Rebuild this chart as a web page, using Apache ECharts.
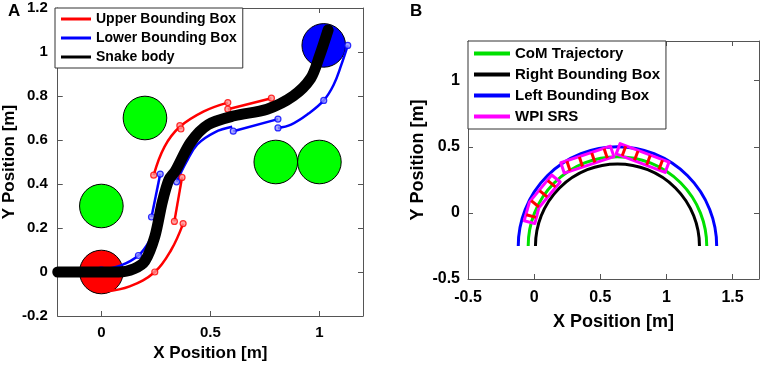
<!DOCTYPE html>
<html>
<head>
<meta charset="utf-8">
<script src="https://cdn.jsdelivr.net/npm/echarts@6/dist/echarts.min.js"></script>
<style>
  html, body { margin: 0; padding: 0; background: #fff; }
  #main { width: 765px; height: 367px; }
</style>
</head>
<body>
<div id="main"></div>
<script>
var FONT = '"Liberation Sans", Arial, sans-serif';

// ---- panel A data (x, y in metres) ----
var greenObstacles = [[0.2, 0.7, 0.1], [0, 0.3, 0.1], [0.8, 0.5, 0.1], [1.0, 0.5, 0.1]];
var startObstacle = [[0, 0, 0.1]];
var goalObstacle = [[1.02, 1.03, 0.1]];

var upperSegs = [
  [[0.02, -0.088], [0.13, -0.065], [0.245, 0.0], [0.32, 0.1], [0.375, 0.22]],
  [[0.335, 0.23], [0.37, 0.43]],
  [[0.24, 0.44], [0.29, 0.57], [0.36, 0.66], [0.47, 0.73], [0.58, 0.77]],
  [[0.58, 0.74], [0.78, 0.79]],
  [[0.785, 0.76], [0.87, 0.8], [0.945, 0.86], [0.99, 0.95]]
];
var upperMarks = [[0.245, 0.0], [0.375, 0.22], [0.335, 0.23], [0.37, 0.43], [0.24, 0.44], [0.36, 0.665],
  [0.365, 0.65], [0.58, 0.77], [0.58, 0.74], [0.78, 0.79], [0.785, 0.76], [0.945, 0.86]];

var lowerSegs = [
  [[0.0, 0.01], [0.09, 0.03], [0.17, 0.075], [0.22, 0.14]],
  [[0.23, 0.25], [0.27, 0.445]],
  [[0.345, 0.41], [0.39, 0.5], [0.44, 0.58], [0.52, 0.635], [0.6, 0.66]],
  [[0.605, 0.64], [0.81, 0.695]],
  [[0.81, 0.655], [0.87, 0.67], [0.95, 0.72], [1.02, 0.78], [1.065, 0.85], [1.1, 0.94], [1.13, 1.03]]
];
var lowerMarks = [[0.0, 0.01], [0.17, 0.075], [0.23, 0.25], [0.27, 0.445], [0.345, 0.41], [0.605, 0.64],
  [0.81, 0.695], [0.81, 0.655], [1.02, 0.78], [1.13, 1.03]];

var snakeBody = [[-0.2, 0], [-0.1, 0], [0, 0], [0.08, 0.0], [0.15, 0.015], [0.2, 0.05], [0.245, 0.16],
  [0.28, 0.32], [0.31, 0.42], [0.34, 0.46], [0.41, 0.59], [0.49, 0.67], [0.61, 0.71], [0.76, 0.74],
  [0.88, 0.8], [0.96, 0.88], [1.0, 0.98], [1.04, 1.1]];

// ---- panel B data ----
var comArc = [[0.63, -0.25, 0.675]];
var rightArc = [[0.63, -0.25, 0.62]];
var leftArc = [[0.63, -0.25, 0.75]];
var moduleSpines = [
  [[-0.035, -0.07], [0.0, 0.06], [0.165, 0.26]],
  [[0.215, 0.34], [0.59, 0.465]],
  [[0.635, 0.485], [1.005, 0.345]]
];
var tickFractions = [0.12, 0.37, 0.62, 0.87];

var axisA_x = [0, 0.5, 1];
var axisA_y = [-0.2, 0, 0.2, 0.4, 0.6, 0.8, 1, 1.2];
var axisB_x = [-0.5, 0, 0.5, 1, 1.5];
var axisB_y = [-0.5, 0, 0.5, 1];

function circleItem(params, api) {
  var c = api.coord([api.value(0), api.value(1)]);
  var r = api.size([api.value(2), 0])[0];
  return {
    type: 'circle',
    shape: { cx: c[0], cy: c[1], r: r },
    style: { fill: api.visual('color'), stroke: '#000', lineWidth: 1 }
  };
}

function arcItem(params, api) {
  var c = api.coord([api.value(0), api.value(1)]);
  var r = api.size([api.value(2), 0])[0];
  return {
    type: 'arc',
    shape: { cx: c[0], cy: c[1], r: r, startAngle: Math.PI, endAngle: 2 * Math.PI, clockwise: true },
    style: { stroke: api.visual('color'), lineWidth: 3, fill: 'transparent' }
  };
}

// point + unit normal at fraction f of a pixel polyline
function along(pts, f) {
  var lens = [], total = 0;
  for (var i = 1; i < pts.length; i++) {
    var l = Math.hypot(pts[i][0] - pts[i - 1][0], pts[i][1] - pts[i - 1][1]);
    lens.push(l); total += l;
  }
  var d = f * total;
  for (var j = 0; j < lens.length; j++) {
    if (d <= lens[j] || j === lens.length - 1) {
      var t = d / lens[j];
      var a = pts[j], b = pts[j + 1];
      var dx = (b[0] - a[0]) / lens[j], dy = (b[1] - a[1]) / lens[j];
      return [a[0] + (b[0] - a[0]) * t, a[1] + (b[1] - a[1]) * t, -dy, dx];
    }
    d -= lens[j];
  }
}

function moduleItem(params, api) {
  var pts = moduleSpines[params.dataIndex].map(function (p) { return api.coord(p); });
  var h = 5.5;
  var left = [], right = [];
  for (var i = 0; i < pts.length; i++) {
    var a = pts[Math.max(i - 1, 0)], b = pts[Math.min(i + 1, pts.length - 1)];
    var dx = b[0] - a[0], dy = b[1] - a[1], L = Math.hypot(dx, dy);
    var nx = -dy / L * h, ny = dx / L * h;
    left.push([pts[i][0] + nx, pts[i][1] + ny]);
    right.unshift([pts[i][0] - nx, pts[i][1] - ny]);
  }
  var children = [{
    type: 'polygon',
    shape: { points: left.concat(right) },
    style: { fill: 'transparent', stroke: '#ff00ff', lineWidth: 3, lineJoin: 'round' }
  }];
  tickFractions.forEach(function (f) {
    var q = along(pts, f);
    children.push({
      type: 'line',
      shape: { x1: q[0] - q[2] * 5, y1: q[1] - q[3] * 5, x2: q[0] + q[2] * 5, y2: q[1] + q[3] * 5 },
      style: { stroke: '#ff0000', lineWidth: 3 }
    });
  });
  return { type: 'group', children: children };
}

function fmt(v) { return String(+v.toFixed(1)); }

function mainAxis(grid, pos, min, max, vals, size, margin, name, gap) {
  return {
    type: 'value', gridIndex: grid, position: pos, min: min, max: max,
    axisLine: { show: true, onZero: false, lineStyle: { color: '#555', width: 1 } },
    axisTick: { show: true, inside: true, length: 5, customValues: vals, lineStyle: { color: '#555' } },
    axisLabel: { customValues: vals, formatter: fmt, margin: margin, color: '#000',
      fontSize: size, fontWeight: 'bold', fontFamily: FONT },
    splitLine: { show: false },
    name: name, nameLocation: 'middle', nameGap: gap,
    nameTextStyle: { color: '#000', fontSize: size + 2, fontWeight: 'bold', fontFamily: FONT }
  };
}
function mirrorAxis(grid, pos, min, max, vals) {
  return {
    type: 'value', gridIndex: grid, position: pos, min: min, max: max,
    axisLine: { show: true, onZero: false, lineStyle: { color: '#555', width: 1 } },
    axisTick: { show: true, inside: true, length: 5, customValues: vals, lineStyle: { color: '#555' } },
    axisLabel: { show: false },
    splitLine: { show: false }
  };
}

var series = [];
series.push({ name: 'obsGreen', type: 'custom', xAxisIndex: 0, yAxisIndex: 0, renderItem: circleItem,
  data: greenObstacles, encode: { x: 0, y: 1 }, itemStyle: { color: '#00ff00' }, z: 1 });
series.push({ name: 'obsStart', type: 'custom', xAxisIndex: 0, yAxisIndex: 0, renderItem: circleItem,
  data: startObstacle, encode: { x: 0, y: 1 }, itemStyle: { color: '#ff0000' }, z: 1 });
series.push({ name: 'obsGoal', type: 'custom', xAxisIndex: 0, yAxisIndex: 0, renderItem: circleItem,
  data: goalObstacle, encode: { x: 0, y: 1 }, itemStyle: { color: '#0000ff' }, z: 1 });

upperSegs.forEach(function (seg) {
  series.push({ name: 'Upper Bounding Box', type: 'line', xAxisIndex: 0, yAxisIndex: 0, data: seg,
    smooth: 0.4, symbol: 'none', color: '#ff0000', lineStyle: { width: 2.5, color: '#ff0000' }, z: 3 });
});
lowerSegs.forEach(function (seg) {
  series.push({ name: 'Lower Bounding Box', type: 'line', xAxisIndex: 0, yAxisIndex: 0, data: seg,
    smooth: 0.4, symbol: 'none', color: '#0000ff', lineStyle: { width: 2.5, color: '#0000ff' }, z: 3 });
});
series.push({ name: 'upperMarks', type: 'scatter', xAxisIndex: 0, yAxisIndex: 0, data: upperMarks,
  symbolSize: 6, itemStyle: { color: '#ff9090', borderColor: '#ff0000', borderWidth: 1.2 }, z: 4 });
series.push({ name: 'lowerMarks', type: 'scatter', xAxisIndex: 0, yAxisIndex: 0, data: lowerMarks,
  symbolSize: 6, itemStyle: { color: '#9090ff', borderColor: '#0000ff', borderWidth: 1.2 }, z: 4 });
series.push({ name: 'Snake body', type: 'line', xAxisIndex: 0, yAxisIndex: 0, data: snakeBody,
  smooth: 0.3, symbol: 'none', color: '#000', lineStyle: { width: 11, color: '#000', cap: 'round', join: 'round' }, z: 5 });

series.push({ name: 'Right Bounding Box', type: 'custom', xAxisIndex: 2, yAxisIndex: 2, renderItem: arcItem,
  data: rightArc, encode: { x: 0, y: 1 }, itemStyle: { color: '#000' }, z: 2 });
series.push({ name: 'Left Bounding Box', type: 'custom', xAxisIndex: 2, yAxisIndex: 2, renderItem: arcItem,
  data: leftArc, encode: { x: 0, y: 1 }, itemStyle: { color: '#0000ff' }, z: 2 });
series.push({ name: 'CoM Trajectory', type: 'custom', xAxisIndex: 2, yAxisIndex: 2, renderItem: arcItem,
  data: comArc, encode: { x: 0, y: 1 }, itemStyle: { color: '#00e000' }, z: 2 });
series.push({ name: 'WPI SRS', type: 'custom', xAxisIndex: 2, yAxisIndex: 2, renderItem: moduleItem,
  data: moduleSpines.map(function (s) { return s[0]; }), encode: { x: 0, y: 1 },
  itemStyle: { color: '#ff00ff' }, z: 3 });

var legendText = function (size) {
  return { color: '#000', fontSize: size, fontWeight: 'bold', fontFamily: FONT };
};

var option = {
  animation: false,
  backgroundColor: '#fff',
  grid: [
    { left: 55, top: 8, width: 308, height: 309 },
    { left: 468, top: 41, width: 291, height: 238 }
  ],
  xAxis: [
    mainAxis(0, 'bottom', -0.2, 1.2, axisA_x, 15, 9, 'X Position [m]', 29),
    mirrorAxis(0, 'top', -0.2, 1.2, axisA_x),
    mainAxis(1, 'bottom', -0.5, 1.7, axisB_x, 16, 11, 'X Position [m]', 34),
    mirrorAxis(1, 'top', -0.5, 1.7, axisB_x)
  ],
  yAxis: [
    mainAxis(0, 'left', -0.2, 1.2, axisA_y, 15, 10, 'Y Position [m]', 34),
    mirrorAxis(0, 'right', -0.2, 1.2, axisA_y),
    mainAxis(1, 'left', -0.5, 1.3, axisB_y, 16, 8, 'Y Position [m]', 41),
    mirrorAxis(1, 'right', -0.5, 1.3, axisB_y)
  ],
  legend: [
    {
      data: ['Upper Bounding Box', 'Lower Bounding Box', 'Snake body'],
      orient: 'vertical', left: 55, top: 8, icon: 'rect', itemWidth: 30, itemHeight: 3, itemGap: 5,
      padding: [4, 6, 4, 6], borderColor: '#333', borderWidth: 1, backgroundColor: '#fff',
      selectedMode: false, textStyle: legendText(14)
    },
    {
      data: ['CoM Trajectory', 'Right Bounding Box', 'Left Bounding Box', 'WPI SRS'],
      orient: 'vertical', left: 468, top: 41, icon: 'rect', itemWidth: 36, itemHeight: 4, itemGap: 6,
      padding: [5, 6, 5, 6], borderColor: '#333', borderWidth: 1, backgroundColor: '#fff',
      selectedMode: false, textStyle: legendText(15)
    }
  ],
  graphic: [
    { type: 'text', left: 8, top: 3, style: { text: 'A', fontSize: 17, fontWeight: 'bold', fontFamily: FONT, fill: '#000' } },
    { type: 'text', left: 410, top: 3, style: { text: 'B', fontSize: 17, fontWeight: 'bold', fontFamily: FONT, fill: '#000' } }
  ],
  series: series
};

var chart = echarts.init(document.getElementById('main'), null, { renderer: 'canvas' });
chart.setOption(option);
</script>
</body>
</html>
